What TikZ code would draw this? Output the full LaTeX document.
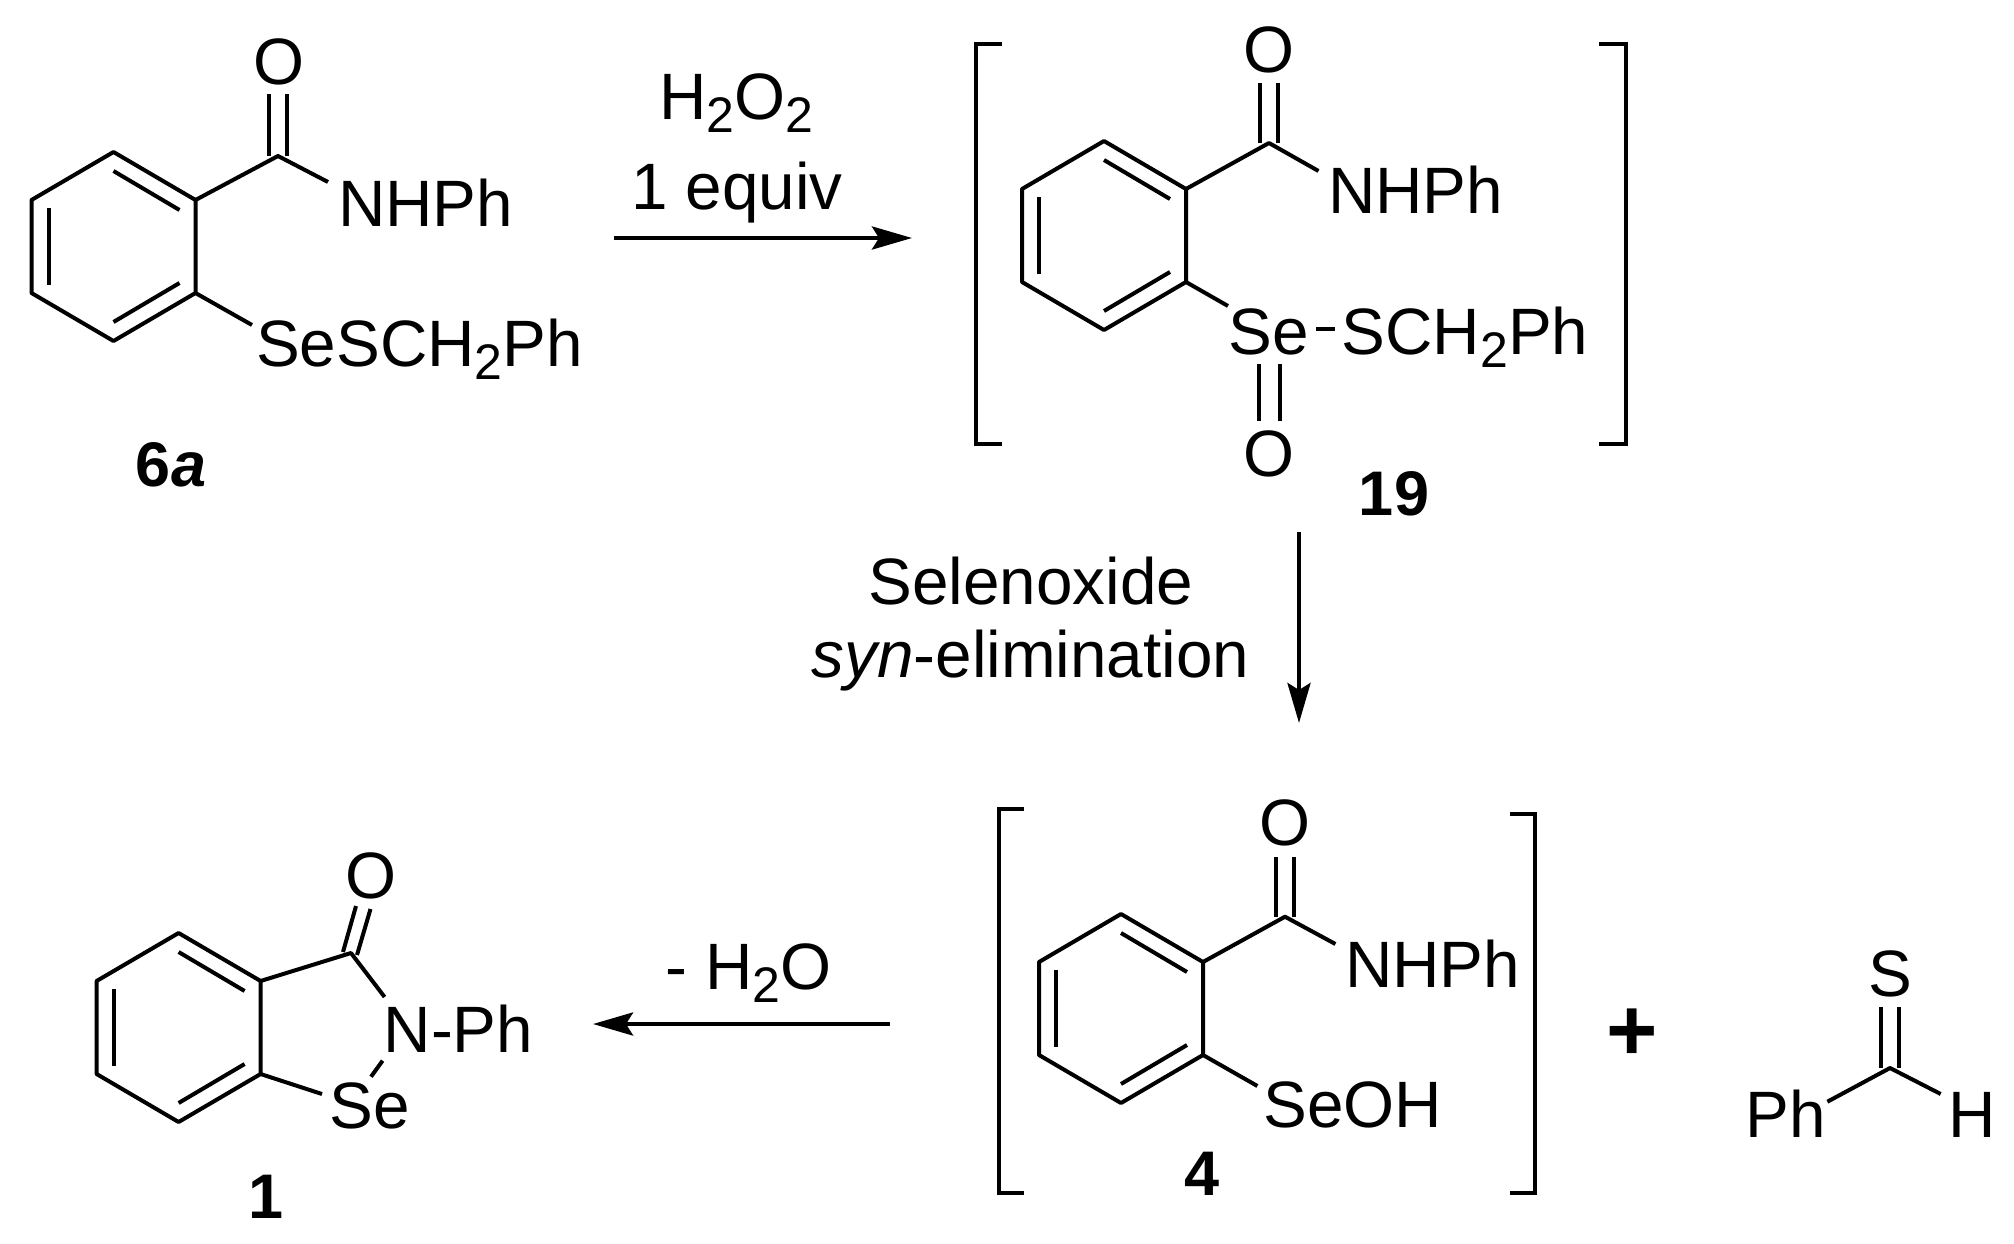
\documentclass[tikz,border=0pt]{standalone}
\usepackage{fontspec}
\setmainfont{Liberation Sans}
\usetikzlibrary{arrows.meta}
\newcommand{\subtwo}{\raisebox{-6.5pt}{\fontsize{25}{28}\selectfont 2}}
\tikzset{
  bond/.style={line width=2pt,line cap=butt,line join=round,draw=black},
  rxn/.style={line width=2.2pt,draw=black,-{Stealth[length=20pt,width=11.5pt,inset=3.5pt]}},
  brk/.style={line width=2.2pt,draw=black,line join=miter},
  atom/.style={inner sep=0pt,outer sep=0pt,anchor=base,font=\fontsize{32.8}{38}\selectfont,text=black},
  cmpd/.style={inner sep=0pt,outer sep=0pt,anchor=base,font=\fontsize{31.5}{36}\selectfont\bfseries,text=black},
  benzring/.pic={
    \coordinate (-t) at (0,0);
    \coordinate (-rt) at (82,48);
    \coordinate (-rb) at (82,141);
    \coordinate (-b) at (0,189);
    \coordinate (-lb) at (-82,141);
    \coordinate (-lt) at (-82,48);
    \coordinate (-ia) at (0,19);
    \coordinate (-ib) at (66,58);
    \coordinate (-ic) at (-65,56);
    \coordinate (-id) at (-65,133);
    \coordinate (-ie) at (0,170);
    \coordinate (-if) at (66,131);
    \draw[bond] (-t)--(-rt)--(-rb)--(-b)--(-lb)--(-lt)--cycle;
    \draw[bond] (-ia)--(-ib);
    \draw[bond] (-ic)--(-id);
    \draw[bond] (-ie)--(-if);
  }
}
\begin{document}
\begin{tikzpicture}[x=0.5pt,y=-0.5pt]
\path[fill=white,use as bounding box] (0,0) rectangle (2014,1243);

% ---------- 6a
\pic (ra) at (113.5,152) {benzring};
\coordinate (ca) at (278,156);
\coordinate (caO) at (278,94);
\coordinate (caN) at (328,182);
\coordinate (caSe) at (252,325);
\draw[bond] (ra-rt)--(ca)--(caN);
\draw[bond] (ra-rb)--(caSe);
\draw[bond] ([xshift=-4.3pt]ca)--([xshift=-4.3pt]caO);
\draw[bond] ([xshift=4.3pt]ca)--([xshift=4.3pt]caO);
\node[atom] (Oa) at (279,84) {O};
\node[atom] (NHPha) at (425.5,226) {NHPh};
\node[atom] (Sea) at (419.5,366) {SeSCH\subtwo Ph};
\node[cmpd] (la) at (171,486) {6\textit{a}};

% ---------- arrow 1
\coordinate (a1s) at (614,238);
\coordinate (a1e) at (912,238);
\draw[rxn] (a1s)--(a1e);
\node[atom] (r1a) at (736.5,119) {H\subtwo O\subtwo};
\node[atom] (r1b) at (737,209) {1 equiv};

% ---------- 19
\coordinate (b1a) at (1002,44);
\coordinate (b1b) at (976,44);
\coordinate (b1c) at (976,444);
\coordinate (b1d) at (1002,444);
\draw[brk] (b1a)--(b1b)--(b1c)--(b1d);
\coordinate (b2a) at (1599,44);
\coordinate (b2b) at (1626,44);
\coordinate (b2c) at (1626,444);
\coordinate (b2d) at (1599,444);
\draw[brk] (b2a)--(b2b)--(b2c)--(b2d);
\pic (rb) at (1104,141) {benzring};
\coordinate (cb) at (1269,143);
\coordinate (cbO) at (1269,83);
\coordinate (cbN) at (1318.5,171);
\coordinate (cbSe) at (1228,306);
\coordinate (sa) at (1316,329);
\coordinate (sb) at (1335,329);
\coordinate (seO1) at (1269.5,364);
\coordinate (seO2) at (1269.5,421);
\draw[bond] (rb-rt)--(cb)--(cbN);
\draw[bond] (rb-rb)--(cbSe);
\draw[bond] ([xshift=-4.3pt]cb)--([xshift=-4.3pt]cbO);
\draw[bond] ([xshift=4.3pt]cb)--([xshift=4.3pt]cbO);
\draw[bond] (sa)--(sb);
\draw[bond] ([xshift=-5.2pt]seO1)--([xshift=-5.2pt]seO2);
\draw[bond] ([xshift=5.2pt]seO1)--([xshift=5.2pt]seO2);
\node[atom] (Ob) at (1269,72.5) {O};
\node[atom] (NHPhb) at (1415.5,213.6) {NHPh};
\node[atom] (Seb) at (1269,354.6) {Se};
\node[atom] (SCb) at (1465,354.6) {SCH\subtwo Ph};
\node[atom] (Oc) at (1269,476) {O};
\node[cmpd] (lb) at (1394,515) {19};

% ---------- arrow 2
\coordinate (a2s) at (1299,532);
\coordinate (a2e) at (1299,723);
\draw[rxn] (a2s)--(a2e);
\node[atom] (r2a) at (1031,604) {Selenoxide};
\node[atom] (r2b) at (1030.5,677) {\textit{syn}-elimination};

% ---------- 4
\coordinate (b3a) at (1024,809);
\coordinate (b3b) at (999,809);
\coordinate (b3c) at (999,1193);
\coordinate (b3d) at (1024,1193);
\draw[brk] (b3a)--(b3b)--(b3c)--(b3d);
\coordinate (b4a) at (1510,814);
\coordinate (b4b) at (1535,814);
\coordinate (b4c) at (1535,1193);
\coordinate (b4d) at (1510,1193);
\draw[brk] (b4a)--(b4b)--(b4c)--(b4d);
\pic (rc) at (1121,914) {benzring};
\coordinate (cc) at (1285,916.7);
\coordinate (ccO) at (1285,856.7);
\coordinate (ccN) at (1335.4,944);
\coordinate (ccSe) at (1257.4,1086);
\draw[bond] (rc-rt)--(cc)--(ccN);
\draw[bond] (rc-rb)--(ccSe);
\draw[bond] ([xshift=-4.5pt]cc)--([xshift=-4.5pt]ccO);
\draw[bond] ([xshift=4.5pt]cc)--([xshift=4.5pt]ccO);
\node[atom] (Od) at (1285,845.5) {O};
\node[atom] (NHPhc) at (1432.5,987.7) {NHPh};
\node[atom] (SeOH) at (1353,1127.7) {SeOH};
\node[cmpd] (lc) at (1202,1195) {4};
\node[inner sep=0pt,anchor=base,font=\fontsize{44}{50}\selectfont\bfseries] (plus) at (1632.6,1060) {+};

% ---------- thiobenzaldehyde
\coordinate (cd) at (1890,1068);
\coordinate (cdS) at (1890,1006.7);
\coordinate (cdPh) at (1827.4,1101.7);
\coordinate (cdH) at (1940.7,1094);
\draw[bond] (cdPh)--(cd)--(cdH);
\draw[bond] ([xshift=-4.4pt]cd)--([xshift=-4.4pt]cdS);
\draw[bond] ([xshift=4.4pt]cd)--([xshift=4.4pt]cdS);
\node[atom] (S) at (1890,996) {S};
\node[atom] (Ph) at (1786,1137) {Ph};
\node[atom] (H) at (1972,1137) {H};

% ---------- arrow 3
\coordinate (a3s) at (890,1024);
\coordinate (a3e) at (593,1024);
\draw[rxn] (a3s)--(a3e);
\node[atom] (r3) at (748.5,989) {- H\subtwo O};

% ---------- 1
\pic (rd) at (178.6,933) {benzring};
\coordinate (ce) at (351,953);
\coordinate (ceN) at (384.6,997);
\coordinate (nse1) at (382.6,1060.7);
\coordinate (nse2) at (371,1076.7);
\coordinate (rse) at (322,1094);
\coordinate (o1a) at (343,952);
\coordinate (o1b) at (356,906);
\coordinate (o2a) at (357,955);
\coordinate (o2b) at (370.5,909);
\draw[bond] (rd-rt)--(ce)--(ceN);
\draw[bond] (rd-rb)--(rse);
\draw[bond] (nse1)--(nse2);
\draw[bond] (o1a)--(o1b);
\draw[bond] (o2a)--(o2b);
\node[atom] (Oe) at (371,898.5) {O};
\node[atom] (NPh) at (458.5,1052.7) {N-Ph};
\node[atom] (Se1) at (369.5,1128) {Se};
\node[cmpd] (ld) at (266,1218) {1};
\end{tikzpicture}
\end{document}
